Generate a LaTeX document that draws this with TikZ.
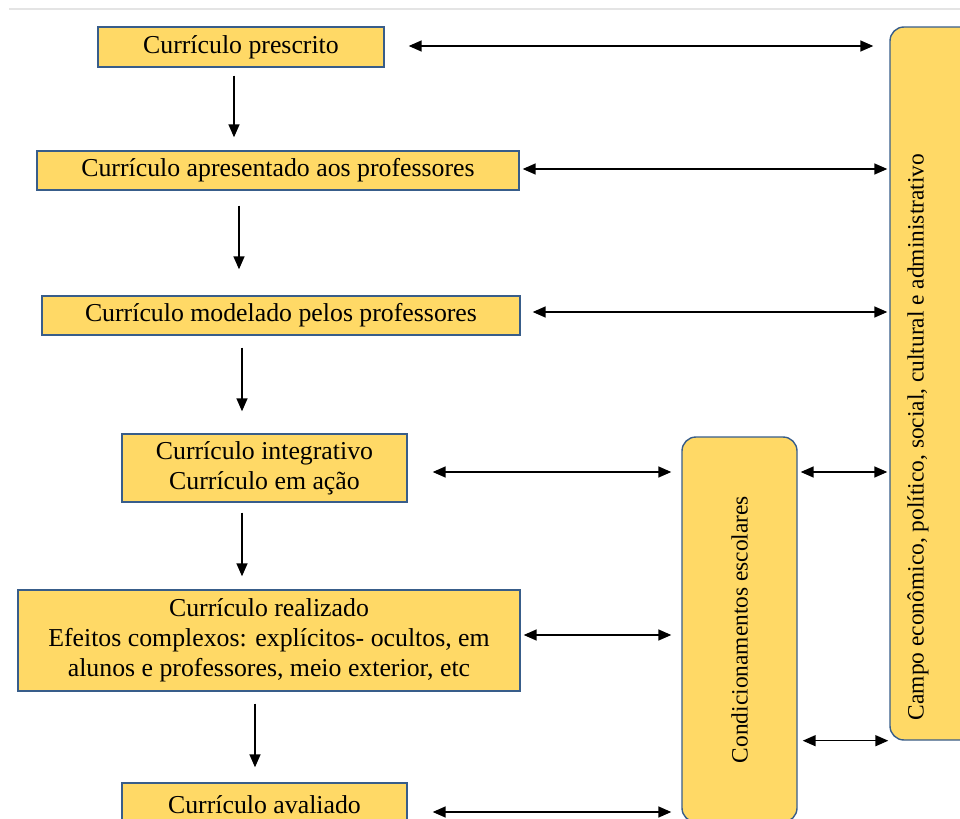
\documentclass[tikz,border=0pt]{standalone}
\usepackage{fontspec}
\setmainfont{Liberation Serif}
\usetikzlibrary{positioning,arrows.meta,calc}
\definecolor{amarelo}{HTML}{FFD966}
\definecolor{borda}{HTML}{385D8A}
\definecolor{linhacinza}{HTML}{E4E4E4}
\tikzset{
  caixa/.style={
    rectangle, draw=borda, fill=amarelo, line width=0.7pt,
    font=\fontsize{12.9}{15}\selectfont, align=center, inner sep=0pt
  },
  caixaredonda/.style={
    caixa, rounded corners=7pt, font=\fontsize{11.7}{14}\selectfont
  },
  texto/.style={
    font=\fontsize{11.7}{14}\selectfont, inner sep=0pt
  },
  seta/.style={
    -{Triangle[length=6.5pt,width=5.5pt]}, line width=0.75pt, black
  },
  setadupla/.style={
    {Triangle[length=6.5pt,width=5.5pt]}-{Triangle[length=6.5pt,width=5.5pt]}, line width=0.75pt, black
  }
}

\begin{document}
\begin{tikzpicture}[x=0.5pt, y=-0.5pt]
\useasboundingbox (0,0) rectangle (960,819);
\clip (0,0) rectangle (960,819);
\draw[linhacinza, line width=0.6pt] (9,9) -- (960,9);

% caixas
\node[caixa, minimum width=143pt, minimum height=20pt] (prescrito) at (241,47) {Currículo prescrito};
\node[caixa, minimum width=241pt, minimum height=19.5pt] (apresentado) at (278,170.5) {Currículo apresentado aos professores};
\node[caixa, minimum width=239pt, minimum height=19.5pt] (modelado) at (281,315.5) {Currículo modelado pelos professores};
\node[caixa, minimum width=142.5pt, minimum height=34pt] (integrativo) at (264.5,468) {Currículo integrativo\\Currículo em ação};
\node[caixa, minimum width=251pt, minimum height=50.5pt] (realizado) at (269,640.5) {Currículo realizado\\Efeitos complexos: explícitos- ocultos, em\\alunos e professores, meio exterior, etc};
\node[caixa, minimum width=142.5pt, minimum height=22pt] (avaliado) at (264.5,805) {Currículo avaliado};
\node[caixaredonda, minimum width=57.5pt, minimum height=192.5pt] (condic) at (739.5,629.5) {\rotatebox{90}{Condicionamentos escolares}};
\node[caixaredonda, minimum width=50pt, minimum height=356.5pt] (campo) at (940,383.5) {};
\node[texto, rotate=90] (campotexto) at (918,437) {Campo econômico, político, social, cultural e administrativo};

% setas para baixo
\draw[seta, shorten <=4pt, shorten >=6.5pt] ([xshift=-3.5pt]prescrito.south) -- ([xshift=-3.5pt]prescrito.south |- apresentado.north);
\draw[seta, shorten <=7.5pt, shorten >=13pt] ([xshift=-19.5pt]apresentado.south) -- ([xshift=-19.5pt]apresentado.south |- modelado.north);
\draw[seta, shorten <=6pt, shorten >=11pt] ([xshift=-19.5pt]modelado.south) -- ([xshift=-19.5pt]modelado.south |- integrativo.north);
\draw[seta, shorten <=5pt, shorten >=6.5pt] ([xshift=-11.25pt]integrativo.south) -- ([xshift=-11.25pt]integrativo.south |- realizado.north);
\draw[seta, shorten <=6pt, shorten >=7.5pt] ([xshift=-7pt]realizado.south) -- ([xshift=-7pt]realizado.south |- avaliado.north);

% setas duplas
\draw[setadupla, shorten <=12pt, shorten >=8pt] ([yshift=0.5pt]prescrito.east) -- ([yshift=0.5pt]prescrito.east -| campo.west);
\draw[setadupla, shorten <=1.5pt, shorten >=1pt] ([yshift=0.75pt]apresentado.east) -- ([yshift=0.75pt]apresentado.east -| campo.west);
\draw[setadupla, shorten <=6pt, shorten >=1pt] ([yshift=1.75pt]modelado.east) -- ([yshift=1.75pt]modelado.east -| campo.west);
\draw[setadupla, shorten <=12.5pt, shorten >=5pt] ([yshift=-2pt]integrativo.east) -- ([yshift=-2pt]integrativo.east -| condic.west);
\draw[setadupla, shorten <=1.5pt, shorten >=1pt] ([yshift=-2pt]integrativo.east -| condic.east) -- ([yshift=-2pt]integrativo.east -| campo.west);
\draw[setadupla, shorten <=1.5pt, shorten >=5pt] ([yshift=2.75pt]realizado.east) -- ([yshift=2.75pt]realizado.east -| condic.west);
\draw[setadupla, shorten <=2.5pt, shorten >=0.5pt] (condic.east |- campo.south west) -- (campo.south west);
\draw[setadupla, shorten <=12.5pt, shorten >=5pt] ([yshift=-3.5pt]avaliado.east) -- ([yshift=-3.5pt]avaliado.east -| condic.west);
\end{tikzpicture}
\end{document}
